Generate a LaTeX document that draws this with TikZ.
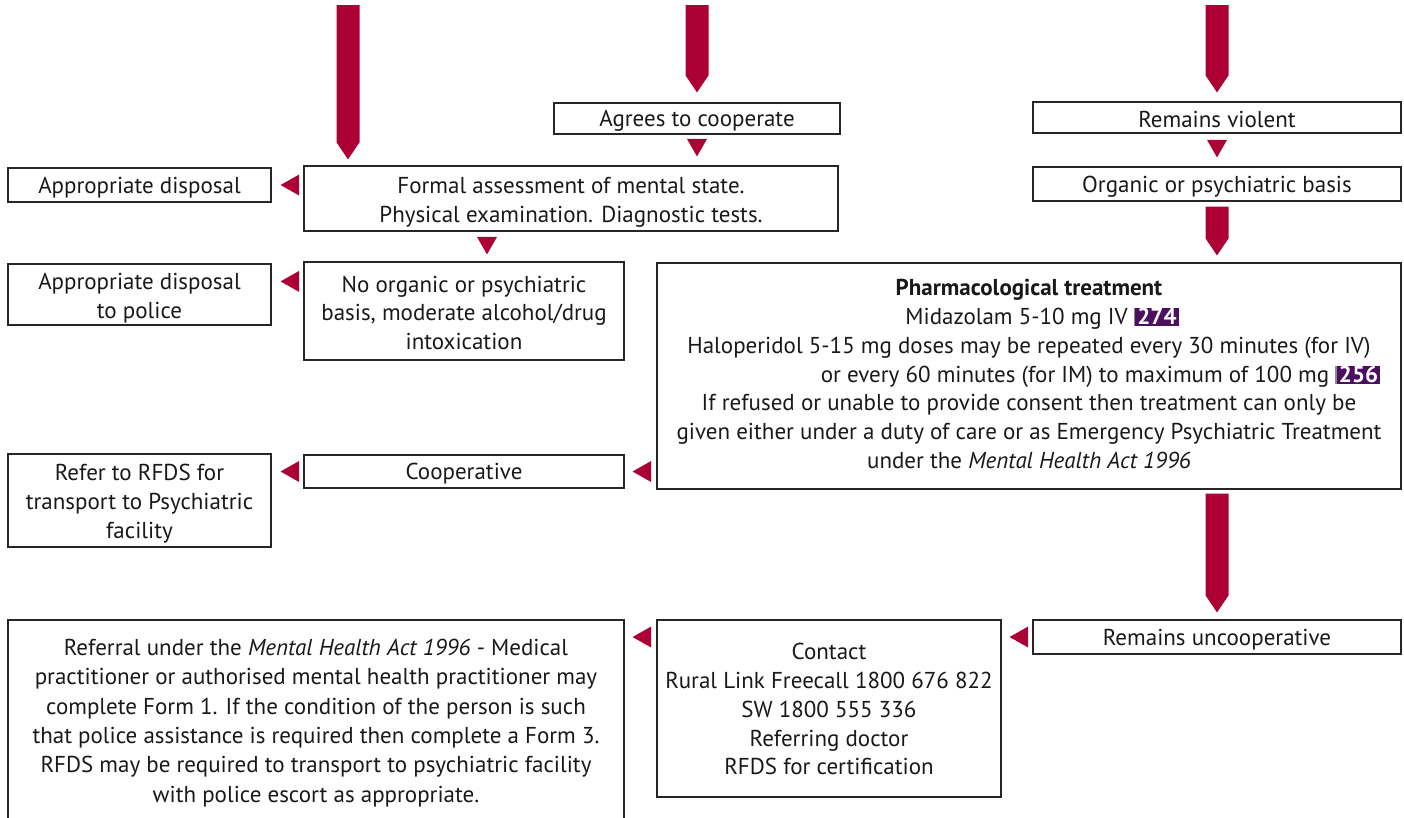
\documentclass[tikz,border=0pt]{standalone}
\usepackage{fontspec}
\setmainfont{PT Sans}
\usetikzlibrary{calc}

\definecolor{crim}{RGB}{173,0,52}
\definecolor{badgepurple}{RGB}{76,14,94}
\definecolor{badgebar}{RGB}{140,140,140}

% reference badge: thin grey bar followed by a purple tag with a white number
\newcommand\refbadge[1]{{\color{badgebar}\rule[-1.5pt]{1.6pt}{18pt}}{\setlength{\fboxsep}{0pt}\colorbox{badgepurple}{\rule[-1.5pt]{0pt}{18pt}\hspace{2pt}\textcolor{white}{\bfseries #1}\hspace{2pt}}}}

% broad crimson arrow with a pointed end, from #1 down to the tip #2
\newcommand\fatconn[2]{\fill[crim] let \p1=(#1), \p2=(#2) in
  (\x1-11.5pt,\y1) -- (\x1+11.5pt,\y1) -- (\x1+11.5pt,\y2+17pt) -- (\x1,\y2)
  -- (\x1-11.5pt,\y2+17pt) -- cycle;}
% small crimson triangles, tip at #1
\newcommand\tridown[1]{\fill[crim] (#1) -- ++(-10pt,17.5pt) -- ++(20pt,0pt) -- cycle;}
\newcommand\trileft[1]{\fill[crim] (#1) -- ++(18.5pt,10.5pt) -- ++(0pt,-21pt) -- cycle;}

\tikzset{
  box/.style={draw=black!85, line width=1.2pt, align=center, inner sep=0pt,
    font=\fontsize{23}{28.8}\selectfont, text=black!90,
    execute at begin node={\rule{0pt}{21pt}}},
  % multi-line boxes: an invisible strut over the whole text block sits it lower
  mbox/.style={box, execute at begin node={\rule{0pt}{#1}}},
  plainbox/.style={box, execute at begin node={}},
}

\begin{document}
\begin{tikzpicture}[x=1pt,y=-1pt]
\useasboundingbox (0,0) rectangle (1404,817);

% ---- boxes ----
\node[box, minimum width=286, minimum height=31] (agree) at (697,118.5) {Agrees to cooperate};
\node[box, minimum width=368, minimum height=31] (violent) at (1217,117.5) {Remains violent};
\node[box, minimum width=263, minimum height=34] (disp1) at (139.5,185) {Appropriate disposal};
\node[mbox=52.8pt, minimum width=534, minimum height=65] (formal) at (571,198.5)
  {Formal assessment of mental state.\\Physical examination. Diagnostic tests.};
\node[box, minimum width=368, minimum height=34] (organic) at (1217,184) {Organic or psychiatric basis};
\node[mbox=52pt, minimum width=263, minimum height=61] (disp2) at (139.5,294.5) {Appropriate disposal\\to police};
\node[mbox=77.6pt, minimum width=320, minimum height=98] (noorg) at (464,311)
  {No organic or psychiatric\\basis, moderate alcohol/drug\\intoxication};
\node[plainbox, minimum width=744, minimum height=226] (pharm) at (1029,376)
  {\textbf{Pharmacological treatment}\\
   \hspace*{26pt}Midazolam 5-10 mg IV \refbadge{274}\\
   Haloperidol 5-15 mg doses may be repeated every 30 minutes (for IV)\\
   \hspace*{143pt}or every 60 minutes (for IM) to maximum of 100 mg \refbadge{256}\\
   If refused or unable to provide consent then treatment can only be\\
   given either under a duty of care or as Emergency Psychiatric Treatment\\
   under the \textit{Mental Health Act 1996}\rule[-4pt]{0pt}{0pt}};
\node[mbox=80.6pt, minimum width=263, minimum height=93] (rfds) at (139.5,500.5)
  {Refer to RFDS for\\transport to Psychiatric\\facility};
\node[box, minimum width=320, minimum height=33] (coop) at (464,471.5) {Cooperative};
\node[box, minimum width=368, minimum height=34] (uncoop) at (1217,637) {Remains uncooperative};
\node[mbox=133pt, minimum width=344, minimum height=177] (contact) at (829,708.5)
  {Contact\\Rural Link Freecall 1800 676 822\\SW 1800 555 336\\Referring doctor\\RFDS for certification};
\node[mbox=166pt, font=\fontsize{23}{29.4}\selectfont, minimum width=616, minimum height=203] (referral) at (316,721.5)
  {Referral under the \textit{Mental Health Act 1996} - Medical\\
   practitioner or authorised mental health practitioner may\\
   complete Form 1. If the condition of the person is such\\
   that police assistance is required then complete a Form 3.\\
   RFDS may be required to transport to psychiatric facility\\
   with police escort as appropriate.};

% ---- broad arrows ----
\coordinate (top1) at (348,5);
\coordinate (top2) at (697,5);
\coordinate (top3) at (1217,5);
\fatconn{top1}{$(top1 |- formal.north)+(0,6pt)$}
\fatconn{top2}{$(top2 |- agree.north)+(0,10pt)$}
\fatconn{top3}{$(top3 |- violent.north)+(0,9pt)$}
\fatconn{$(organic.south)+(0,-5pt)$}{$(pharm.north -| organic.south)+(0,7pt)$}
\fatconn{$(pharm.south -| uncoop.north)+(0,-4pt)$}{$(uncoop.north)+(0,7pt)$}

% ---- small triangles ----
\tridown{$(agree.south |- formal.north)+(0,9pt)$}
\tridown{$(violent.south |- organic.north)+(0,9pt)$}
\tridown{$(noorg.north)+(23pt,7pt)$}
\trileft{$(disp1.east)+(9pt,0)$}
\trileft{$(disp2.north east)+(9pt,-18pt)$}
\trileft{$(coop.east)+(8pt,0)$}
\trileft{$(rfds.east |- coop.east)+(9pt,0)$}
\trileft{$(contact.east |- uncoop.east)+(8pt,0)$}
\trileft{$(referral.east |- uncoop.east)+(8pt,0)$}
\end{tikzpicture}
\end{document}
